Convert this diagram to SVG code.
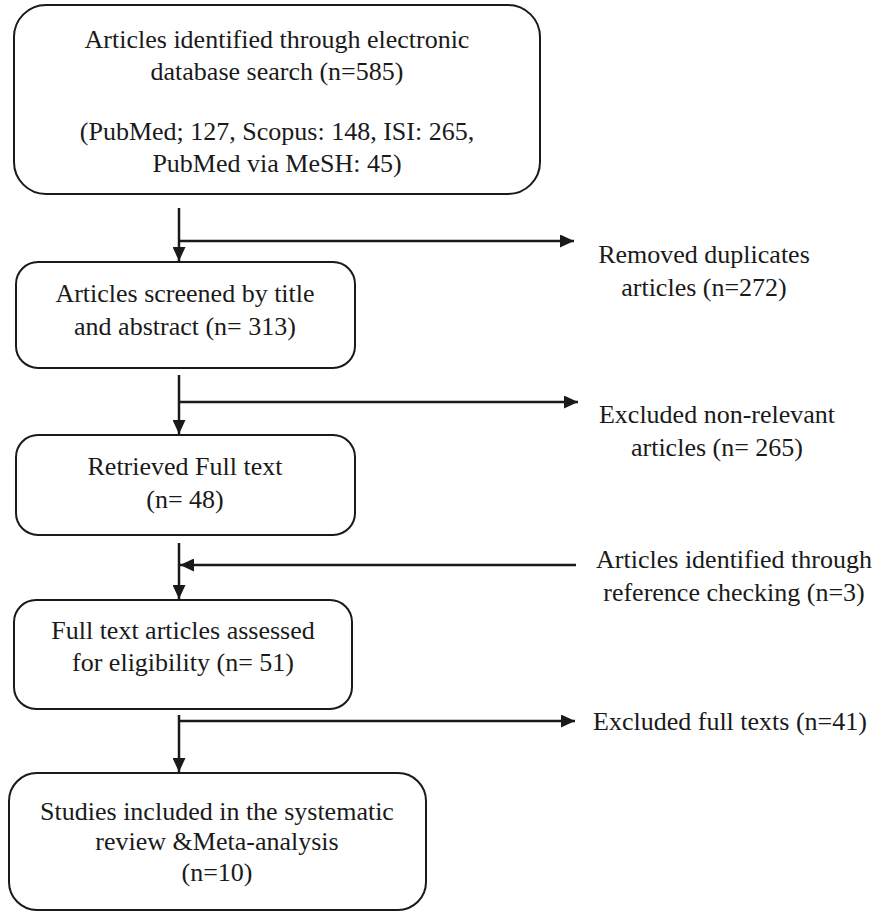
<svg xmlns="http://www.w3.org/2000/svg" width="875" height="913" viewBox="0 0 875 913">
<defs>
<marker id="ah" viewBox="0 0 14 13" refX="14" refY="6.5" markerWidth="14" markerHeight="13" markerUnits="userSpaceOnUse" orient="auto">
<path d="M0,0 L14,6.5 L0,13 Z" fill="#1a1a1a"/>
</marker>
<style>
.box{fill:#fff;stroke:#1a1a1a;stroke-width:2}
.t{font-family:"Liberation Serif","Times New Roman",serif;font-size:26px;fill:#1a1a1a;text-anchor:middle}
.c{fill:none;stroke:#1a1a1a;stroke-width:2.5}
</style>
</defs>
<rect width="875" height="913" fill="#fff"/>
<g id="connectors">
<path class="c" d="M179,208 V261" marker-end="url(#ah)"/>
<path class="c" d="M179,241 H574" marker-end="url(#ah)"/>
<path class="c" d="M179,375 V434" marker-end="url(#ah)"/>
<path class="c" d="M179,402 H578" marker-end="url(#ah)"/>
<path class="c" d="M179,543 V599" marker-end="url(#ah)"/>
<path class="c" d="M576,565 H180" marker-end="url(#ah)"/>
<path class="c" d="M179,715 V772" marker-end="url(#ah)"/>
<path class="c" d="M179,721 H575" marker-end="url(#ah)"/>
</g>
<g id="n1">
<rect class="box" x="14" y="5" width="526" height="189" rx="32"/>
<text class="t" x="277" y="48">Articles identified through electronic</text>
<text class="t" x="277" y="80">database search (n=585)</text>
<text class="t" x="277" y="140">(PubMed; 127, Scopus: 148, ISI: 265,</text>
<text class="t" x="277" y="172">PubMed via MeSH: 45)</text>
</g>
<g id="n2">
<rect class="box" x="16" y="262" width="339" height="106" rx="22"/>
<text class="t" x="185" y="302">Articles screened by title</text>
<text class="t" x="185" y="335">and abstract (n= 313)</text>
</g>
<g id="n3">
<rect class="box" x="16" y="435" width="339" height="100" rx="22"/>
<text class="t" x="185" y="475">Retrieved Full text</text>
<text class="t" x="185" y="508">(n= 48)</text>
</g>
<g id="n4">
<rect class="box" x="14" y="600" width="338" height="109" rx="22"/>
<text class="t" x="183" y="639">Full text articles assessed</text>
<text class="t" x="183" y="671">for eligibility (n= 51)</text>
</g>
<g id="n5">
<rect class="box" x="9" y="773" width="417" height="137" rx="28"/>
<text class="t" x="217" y="820">Studies included in the systematic</text>
<text class="t" x="217" y="850">review &amp;Meta-analysis</text>
<text class="t" x="217" y="881">(n=10)</text>
</g>
<g id="r1">
<text class="t" x="704" y="263">Removed duplicates</text>
<text class="t" x="704" y="296">articles (n=272)</text>
</g>
<g id="r2">
<text class="t" x="717" y="423">Excluded non-relevant</text>
<text class="t" x="717" y="456">articles (n= 265)</text>
</g>
<g id="r3">
<text class="t" x="734" y="568">Articles identified through</text>
<text class="t" x="734" y="601">reference checking (n=3)</text>
</g>
<g id="r4">
<text class="t" x="730" y="730">Excluded full texts (n=41)</text>
</g>
</svg>
